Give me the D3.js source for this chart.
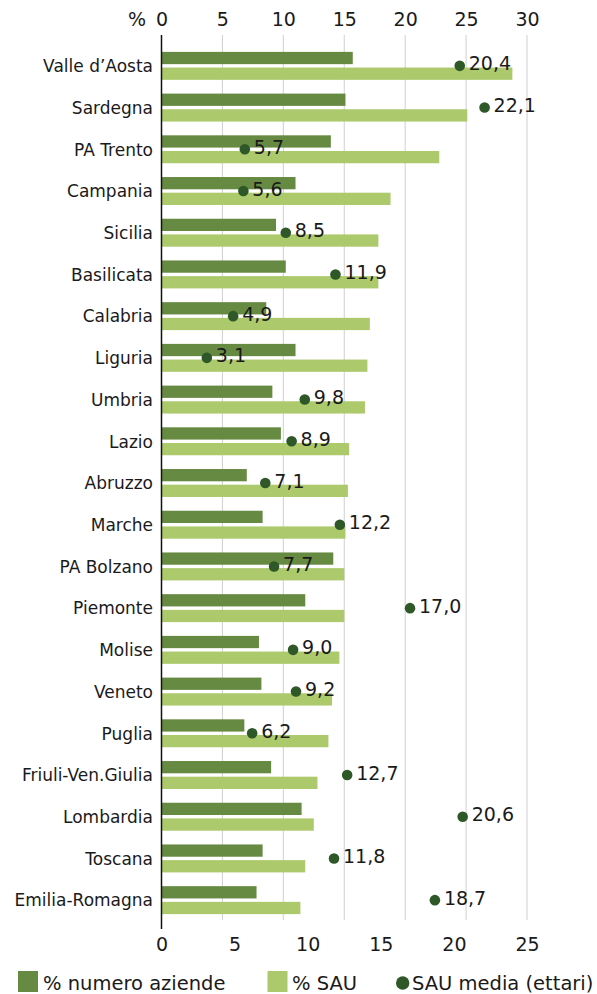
<!DOCTYPE html>
<html>
<head>
<meta charset="utf-8">
<script src="https://cdn.jsdelivr.net/npm/d3@7"></script>
<style>
  html, body { margin: 0; padding: 0; background: #fff; }
  svg { display: block; }
  text { font-family: "DejaVu Sans", sans-serif; fill: #1a1a1a; }
</style>
</head>
<body>
<svg id="chart" width="597" height="994"></svg>
<script>
// Regions, ordered as plotted (top to bottom)
const regions = ["Valle d\u2019Aosta", "Sardegna", "PA Trento", "Campania", "Sicilia", "Basilicata",
  "Calabria", "Liguria", "Umbria", "Lazio", "Abruzzo", "Marche", "PA Bolzano", "Piemonte",
  "Molise", "Veneto", "Puglia", "Friuli-Ven.Giulia", "Lombardia", "Toscana", "Emilia-Romagna"];

// % numero aziende (top axis, %)
const pctAziende = [15.7, 15.1, 13.9, 11.0, 9.4, 10.2, 8.6, 11.0, 9.1, 9.8, 7.0, 8.3, 14.1, 11.8,
  8.0, 8.2, 6.8, 9.0, 11.5, 8.3, 7.8];

// % SAU (top axis, %)
const pctSau = [28.8, 25.1, 22.8, 18.8, 17.8, 17.8, 17.1, 16.9, 16.7, 15.4, 15.3, 15.1, 15.0, 15.0,
  14.6, 14.0, 13.7, 12.8, 12.5, 11.8, 11.4];

// SAU media in ettari (bottom axis)
const sauMedia = [20.4, 22.1, 5.7, 5.6, 8.5, 11.9, 4.9, 3.1, 9.8, 8.9, 7.1, 12.2, 7.7, 17.0,
  9.0, 9.2, 6.2, 12.7, 20.6, 11.8, 18.7];

const pctTicks = [0, 5, 10, 15, 20, 25, 30];
const sauTicks = [0, 5, 10, 15, 20, 25];

const seriesNames = ["% numero aziende", "% SAU", "SAU media (ettari)"];
const colors = { aziende: "#678a42", sau: "#acc96c", media: "#2e5828" };

const svg = d3.select("#chart");
const left = 161.5, right = 527;

const xPct = d3.scaleLinear().domain([0, 30]).range([left, right]);
const xSau = d3.scaleLinear().domain([0, 25]).range([left, right]);

const y = d3.scaleBand().domain(regions).range([45, 921]).paddingInner(0.33).paddingOuter(0.165);
const ySub = d3.scaleBand().domain(["aziende", "sau"]).range([0, y.bandwidth()]).paddingInner(0.217);

const rows = regions.map((r, i) => ({ region: r, aziende: pctAziende[i], sau: pctSau[i], media: sauMedia[i] }));

// vertical grid lines on the % scale
svg.append("g").selectAll("line")
  .data(pctTicks.filter(d => d > 0))
  .join("line")
  .attr("x1", d => xPct(d)).attr("x2", d => xPct(d))
  .attr("y1", 35).attr("y2", 920)
  .attr("stroke", "#cfcfcf").attr("stroke-width", 1);

// top axis (%)
const topAxis = svg.append("g")
  .attr("transform", "translate(0,26)")
  .call(d3.axisTop(xPct).tickValues(pctTicks).tickSize(0).tickPadding(0));
topAxis.select(".domain").remove();
topAxis.selectAll("text")
  .attr("y", 0).attr("dy", 0)
  .style("font-size", "19px").style("font-family", "DejaVu Sans, sans-serif").attr("fill", "#1a1a1a");
svg.append("text").attr("x", 146).attr("y", 26).attr("text-anchor", "end")
  .style("font-size", "19px").text("%");

// bottom axis (ettari)
const botAxis = svg.append("g")
  .attr("transform", "translate(0,951)")
  .call(d3.axisBottom(xSau).tickValues(sauTicks).tickSize(0).tickPadding(0));
botAxis.select(".domain").remove();
botAxis.selectAll("text")
  .attr("y", 0).attr("dy", 0)
  .style("font-size", "19px").style("font-family", "DejaVu Sans, sans-serif").attr("fill", "#1a1a1a");

// bars
const groups = svg.append("g").selectAll("g")
  .data(rows)
  .join("g")
  .attr("transform", d => `translate(0,${y(d.region)})`);

groups.append("rect")
  .attr("x", xPct(0))
  .attr("y", ySub("aziende"))
  .attr("width", d => xPct(d.aziende) - xPct(0))
  .attr("height", ySub.bandwidth())
  .attr("fill", colors.aziende);

groups.append("rect")
  .attr("x", xPct(0))
  .attr("y", ySub("sau"))
  .attr("width", d => xPct(d.sau) - xPct(0))
  .attr("height", ySub.bandwidth())
  .attr("fill", colors.sau);

// category labels
svg.append("g").selectAll("text")
  .data(rows)
  .join("text")
  .attr("x", 153)
  .attr("y", d => y(d.region) + y.bandwidth() / 2 + 6.3)
  .attr("text-anchor", "end")
  .style("font-size", "17px")
  .text(d => d.region);

// left axis line
svg.append("line")
  .attr("x1", left).attr("x2", left)
  .attr("y1", 35).attr("y2", 929)
  .attr("stroke", "#111").attr("stroke-width", 1.5);

// SAU media dots and value labels
const fmt = d3.format(".1f");
const cy = d => y(d.region) + y.bandwidth() / 2;
svg.append("g").selectAll("circle")
  .data(rows)
  .join("circle")
  .attr("cx", d => xSau(d.media))
  .attr("cy", cy)
  .attr("r", 5.3)
  .attr("fill", colors.media);

svg.append("g").selectAll("text")
  .data(rows)
  .join("text")
  .attr("x", d => xSau(d.media) + 9)
  .attr("y", d => cy(d) + 4.5)
  .style("font-size", "19px")
  .text(d => fmt(d.media).replace(".", ","));

// legend
const legend = svg.append("g").style("font-size", "19.5px");
legend.append("rect").attr("x", 18).attr("y", 971).attr("width", 20).attr("height", 21).attr("fill", colors.aziende);
legend.append("text").attr("x", 43).attr("y", 990).text(seriesNames[0]);
legend.append("rect").attr("x", 267.5).attr("y", 971).attr("width", 20).attr("height", 21).attr("fill", colors.sau);
legend.append("text").attr("x", 292).attr("y", 990).text(seriesNames[1]);
legend.append("circle").attr("cx", 402.7).attr("cy", 983).attr("r", 6.7).attr("fill", colors.media);
legend.append("text").attr("x", 412).attr("y", 990).text(seriesNames[2]);
</script>
</body>
</html>
